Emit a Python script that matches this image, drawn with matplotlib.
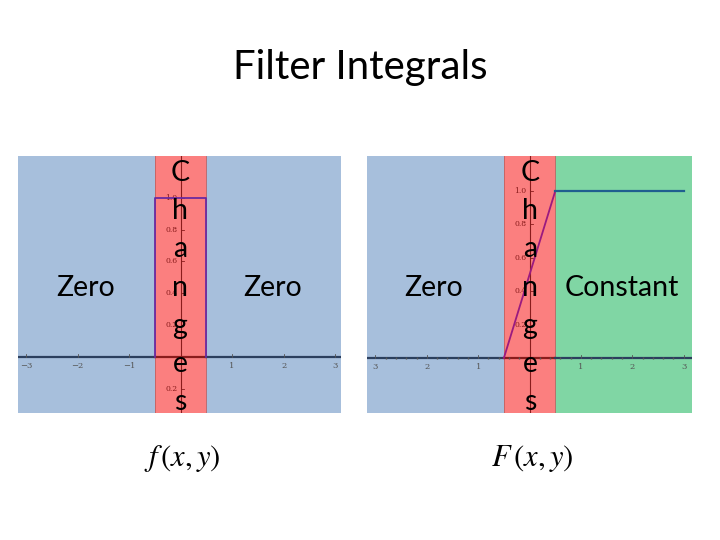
import matplotlib
matplotlib.use("Agg")
import matplotlib.pyplot as plt

# ---- data
box_x = [-0.5, -0.5, 0.5, 0.5]          # f(x,y): box filter
box_y = [0.0, 1.0, 1.0, 0.0]
ramp_x = [-0.5, 0.5]                     # F(x,y): integral of the box
ramp_y = [0.0, 1.0]
flat_x = [0.5, 3.0]
flat_y = [1.0, 1.0]
x_ticks_left = [-3, -2, -1, 1, 2, 3]
x_labels_left = ["\u22123", "\u22122", "\u22121", "1", "2", "3"]
x_ticks_right = [-3, -2, -1, 1, 2, 3]
x_labels_right = ["3", "2", "1", "1", "2", "3"]
y_ticks = [0.2, 0.4, 0.6, 0.8, 1.0]
y_labels = ["0.2", "0.4", "0.6", "0.8", "1.0"]
band = (-0.5, 0.5)
region_labels_left = ["Zero", "Zero"]
region_labels_right = ["Zero", "Constant"]

BLUE_BG, RED_BG, GREEN_BG = "#a7bfdc", "#fb7f7f", "#80d6a4"
NAVY, DARKRED = "#2b3f5e", "#8a1c1c"
FONT = ["Lato", "DejaVu Sans"]

fig = plt.figure(figsize=(7.2, 5.4), dpi=100)
fig.patch.set_facecolor("white")


def panel(rect, xlim, ylim, right_bg, xt, xl, neg_label):
    ax = fig.add_axes(rect)
    ax.set_xlim(*xlim); ax.set_ylim(*ylim)
    ax.axis("off")
    ax.axvspan(xlim[0], band[0], color=BLUE_BG, lw=0, zorder=0)
    ax.axvspan(band[0], band[1], color=RED_BG, lw=0, zorder=0)
    ax.axvspan(band[1], xlim[1], color=right_bg, lw=0, zorder=0)
    ax.axvline(band[0], color="#c06060", lw=0.6, zorder=1)
    ax.axvline(band[1], color="#c06060", lw=0.6, zorder=1)
    # x axis
    ax.plot([xlim[0], band[0]], [0, 0], color=NAVY, lw=1.6, zorder=2)
    ax.plot([band[0], band[1]], [0, 0], color=DARKRED, lw=1.6, zorder=2)
    ax.plot([band[1], xlim[1]], [0, 0], color=NAVY, lw=1.6, zorder=2)
    ax.axvline(0, color=DARKRED, lw=0.8, zorder=2)
    for t, l in zip(xt, xl):
        ax.plot([t, t], [0, 0.02], color="#555555", lw=0.6, zorder=2)
        ax.text(t, -0.03, l, ha="center", va="top", fontsize=6,
                family="DejaVu Serif", color="#555555", zorder=3)
    for t, l in zip(y_ticks, y_labels):
        ax.plot([0, 0.06], [t, t], color=DARKRED, lw=0.6, zorder=2)
        ax.text(-0.06, t, l, ha="right", va="center", fontsize=5.5,
                family="DejaVu Serif", color=DARKRED, zorder=3)
    if neg_label:
        ax.plot([0, 0.06], [-0.2, -0.2], color=DARKRED, lw=0.6, zorder=2)
        ax.text(-0.06, -0.2, "0.2", ha="right", va="center", fontsize=5.5,
                family="DejaVu Serif", color=DARKRED, zorder=3)
    return ax


axL = panel([0.025, 0.235, 0.449, 0.476], (-3.16, 3.12), (-0.35, 1.26),
            BLUE_BG, x_ticks_left, x_labels_left, True)
axL.plot(box_x, box_y, color="#6a2aa0", lw=1.3, zorder=4)

axR = panel([0.510, 0.235, 0.451, 0.476], (-3.16, 3.16), (-0.33, 1.21),
            GREEN_BG, x_ticks_right, x_labels_right, False)
for i in range(-15, 16):
    if i % 5:
        axR.plot(i * 0.2, 0, marker="|", ms=2, color="#555555", zorder=2)
axR.plot(ramp_x, ramp_y, color="#9a1a80", lw=1.3, zorder=4)
axR.plot(flat_x, flat_y, color="#1f5f8f", lw=1.6, zorder=4)

# titles and labels (pixel layout of the slide)
W, H = 720, 540
fig.text(360 / W, 1 - 68 / H, "Filter Integrals", ha="center", va="center",
         fontsize=29, family=FONT)
for x, s in [(86, region_labels_left[0]), (273, region_labels_left[1]),
             (434, region_labels_right[0]), (622, region_labels_right[1])]:
    fig.text(x / W, 1 - 288 / H, s, ha="center", va="center", fontsize=20.5, family=FONT)
for cx in (180, 530):
    for i, ch in enumerate("Changes"):
        fig.text(cx / W, 1 - (173 + 38.2 * i) / H, ch, ha="center", va="center",
                 fontsize=20.5, family=FONT)
fig.text(182 / W, 1 - 458 / H, r"$f\,(x,y)$", ha="center", va="center",
         fontsize=22, math_fontfamily="stix")
fig.text(532 / W, 1 - 458 / H, r"$F\,(x,y)$", ha="center", va="center",
         fontsize=22, math_fontfamily="stix")

fig.savefig("out.png", dpi=100)
